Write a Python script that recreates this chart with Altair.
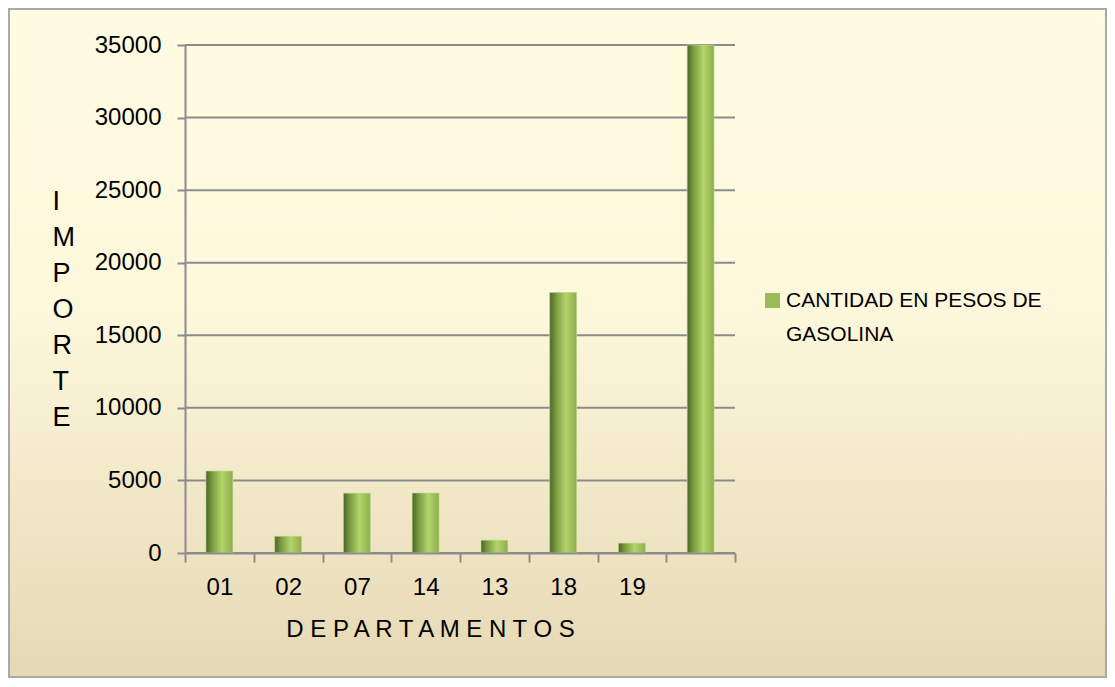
import altair as alt
import pandas as pd

# ---- data ----
departamentos = ["01", "02", "07", "14", "13", "18", "19", " "]
importes = [5650, 1150, 4120, 4140, 880, 17950, 680, 35000]
serie = "CANTIDAD EN PESOS DE GASOLINA"
y_ticks = [0, 5000, 10000, 15000, 20000, 25000, 30000, 35000]

df = pd.DataFrame({"depto": departamentos, "importe": importes, "serie": [serie] * len(departamentos)})
grid_df = pd.DataFrame({"importe": y_ticks})

W, H = 550, 508
PAD = {"left": 177, "top": 37, "right": 372, "bottom": 125}
FONT = "Liberation Sans"
GRID = "#8C8C8C"

bg_grad = alt.Gradient(
    gradient="linear", x1=0, y1=0, x2=0, y2=1,
    stops=[
        alt.GradientStop(offset=0, color="#FFFCE2"),
        alt.GradientStop(offset=0.45, color="#FDF8DC"),
        alt.GradientStop(offset=1, color="#E6D8B4"),
    ],
)
background = alt.Chart(alt.Data(values=[{}])).mark_rect(
    fill=bg_grad, stroke="#A9A9A9", strokeWidth=2
).encode(
    x=alt.value(-PAD["left"] + 1), x2=alt.value(W + PAD["right"] - 1),
    y=alt.value(-PAD["top"] + 1), y2=alt.value(H + PAD["bottom"] - 1),
)

y_scale = alt.Scale(domain=[0, 35000], nice=False)

x_enc = alt.X(
    "depto:N", sort=departamentos,
    scale=alt.Scale(paddingInner=0, paddingOuter=0),
    axis=alt.Axis(
        title="D E P A R T A M E N T O S", titleFont=FONT, titleFontSize=24,
        titleFontWeight="normal", titleColor="#000000",
        titleX=245, titleY=83, titleAlign="center", titleBaseline="alphabetic",
        labelFont=FONT, labelFontSize=24, labelColor="#000000", labelAngle=0,
        labelPadding=13, tickBand="extent", tickSize=9, tickWidth=2, tickColor=GRID,
        domainColor=GRID, domainWidth=2, grid=False, zindex=1,
    ),
)
y_enc = alt.Y(
    "importe:Q",
    scale=y_scale,
    axis=alt.Axis(
        values=y_ticks, format="d",
        title=["I", "M", "P", "O", "R", "T", "E"], titleFont=FONT, titleFontSize=27,
        titleFontWeight="normal", titleColor="#000000", titleAngle=0,
        titleAlign="left", titleBaseline="alphabetic", titleLineHeight=36,
        titleX=-133, titleY=164,
        labelFont=FONT, labelFontSize=24, labelColor="#000000", labelPadding=16,
        tickSize=8, tickWidth=2, tickColor=GRID,
        domainColor=GRID, domainWidth=2,
        grid=False, zindex=1,
    ),
)

gridlines = alt.Chart(grid_df).mark_rule(color=GRID, strokeWidth=2).encode(y=y_enc)

BAR_W = alt.RelativeBandSize(0.39)

legend_bars = alt.Chart(df).mark_bar(width=BAR_W).encode(
    x=x_enc, y=y_enc,
    color=alt.Color(
        "serie:N",
        scale=alt.Scale(range=["#9BBB59"]),
        legend=alt.Legend(
            title=None, orient="none", legendX=577, legendY=245,
            symbolType="square", symbolSize=225, symbolStrokeWidth=0, symbolOpacity=1,
            labelExpr="['CANTIDAD EN PESOS DE', 'GASOLINA']",
            labelFont=FONT, labelFontSize=21, labelColor="#000000",
            labelLimit=400, labelOffset=3,
        ),
    ),
)

bar_grad = alt.Gradient(
    gradient="linear", x1=0, y1=0, x2=1, y2=0,
    stops=[
        alt.GradientStop(offset=0, color="#4B6524"),
        alt.GradientStop(offset=0.25, color="#7C9E42"),
        alt.GradientStop(offset=0.6, color="#B4D46C"),
        alt.GradientStop(offset=1, color="#8DAE4B"),
    ],
)
grad_bars = alt.Chart(df).mark_bar(
    width=BAR_W, fill=bar_grad, stroke="#C9DC9A", strokeWidth=0.6
).encode(x=x_enc, y=y_enc)

chart = alt.layer(background, gridlines, legend_bars, grad_bars).properties(
    width=W, height=H,
    padding=PAD,
    autosize=alt.AutoSizeParams(type="none"),
).configure_view(stroke=None).configure(
    background="#FFFFFF",
    style={"guide-label": {"lineHeight": 34}},
)

chart.save("out.html", embed_options={"renderer": "svg", "actions": False})
